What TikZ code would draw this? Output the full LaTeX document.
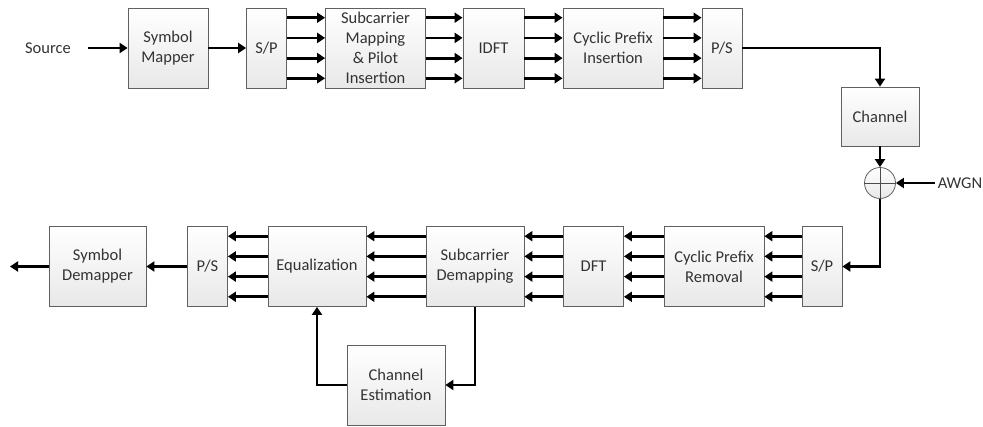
\documentclass[tikz,border=0pt]{standalone}
\usepackage{fontspec}
\setmainfont{Carlito}
\usetikzlibrary{arrows.meta,calc}

\begin{document}
\begin{tikzpicture}[x=1pt,y=-1pt]
    \tikzstyle{block}=[draw=gray!75!black, line width=0.8pt, top color=white, bottom color=gray!18,
                       align=center, inner sep=0pt, font=\fontsize{16.5}{20}\selectfont, text=black!80]
    \tikzstyle{wide}=[block, minimum width=100pt, minimum height=80pt]
    \tikzstyle{thin}=[block, minimum width=40pt, minimum height=80pt]
    \tikzstyle{label}=[font=\fontsize{16.5}{20}\selectfont, text=black!80, inner sep=3pt]
    \tikzstyle{sig}=[line width=2.8pt, -{Triangle[length=8pt,width=10pt]}]
    \useasboundingbox (0,0) rectangle (983,426);

    \node[label] (src) at (48,48) {Source};
    \node[block, minimum width=80pt, minimum height=80pt] (mapper) at (168,48) {Symbol\\Mapper};
    \node[thin] (sp1) at (266.5,48) {S/P};
    \node[wide] (scmap) at (375.5,48) {Subcarrier\\Mapping\\\& Pilot\\Insertion};
    \node[block, minimum width=61pt, minimum height=80pt] (idft) at (493.5,48) {IDFT};
    \node[wide] (cpi) at (613,48) {Cyclic Prefix\\Insertion};
    \node[thin] (ps1) at (722,48) {P/S};

    \node[block, minimum width=78pt, minimum height=59pt] (chan) at (880,116.5) {Channel};
    \node[circle, draw=gray!75!black, line width=0.8pt, top color=white, bottom color=gray!18,
          minimum size=31pt, inner sep=0pt] (adder) at (880,183) {};
    \draw[gray!60!black, line width=0.7pt] (adder.north) -- (adder.south) (adder.west) -- (adder.east);
    \node[label] (awgn) at (960,183) {AWGN};

    \node[thin] (sp2) at (822,266.5) {S/P};
    \node[wide] (cpr) at (714,266.5) {Cyclic Prefix\\Removal};
    \node[block, minimum width=60pt, minimum height=80pt] (dft) at (593.5,266.5) {DFT};
    \node[block, minimum width=98pt, minimum height=80pt] (scdemap) at (475,266.5) {Subcarrier\\Demapping};
    \node[block, minimum width=98pt, minimum height=80pt] (eq) at (317,266.5) {Equalization};
    \node[thin] (ps2) at (207.5,266.5) {P/S};
    \node[block, minimum width=97pt, minimum height=80pt] (demap) at (97.5,266.5) {Symbol\\Demapper};
    \node[block, minimum width=98pt, minimum height=80pt] (chest) at (396,385) {Channel\\Estimation};
    \coordinate (out) at (10,266.5);

    \draw[sig, shorten <=14pt] (src.east) -- (mapper.west);
    \draw[sig] (mapper.east) -- (sp1.west);
    \foreach \a/\b in {sp1/scmap, scmap/idft, idft/cpi, cpi/ps1}
        \foreach \f in {0.125,0.375,0.625,0.875}
            \draw[sig] ($(\a.north east)!\f!(\a.south east)$) -- ($(\b.north west)!\f!(\b.south west)$);
    \draw[sig] (ps1.east) -| (chan.north);
    \draw[sig] (chan.south) -- (adder.north);
    \draw[sig] (awgn.west) -- (adder.east);
    \draw[sig] (adder.south) |- (sp2.east);
    \foreach \a/\b in {sp2/cpr, cpr/dft, dft/scdemap, scdemap/eq, eq/ps2}
        \foreach \f in {0.125,0.375,0.625,0.875}
            \draw[sig] ($(\a.north west)!\f!(\a.south west)$) -- ($(\b.north east)!\f!(\b.south east)$);
    \draw[sig] (ps2.west) -- (demap.east);
    \draw[sig] (demap.west) -- (out);
    \draw[sig] (scdemap.south) |- (chest.east);
    \draw[sig] (chest.west) -| (eq.south);
\end{tikzpicture}
\end{document}
